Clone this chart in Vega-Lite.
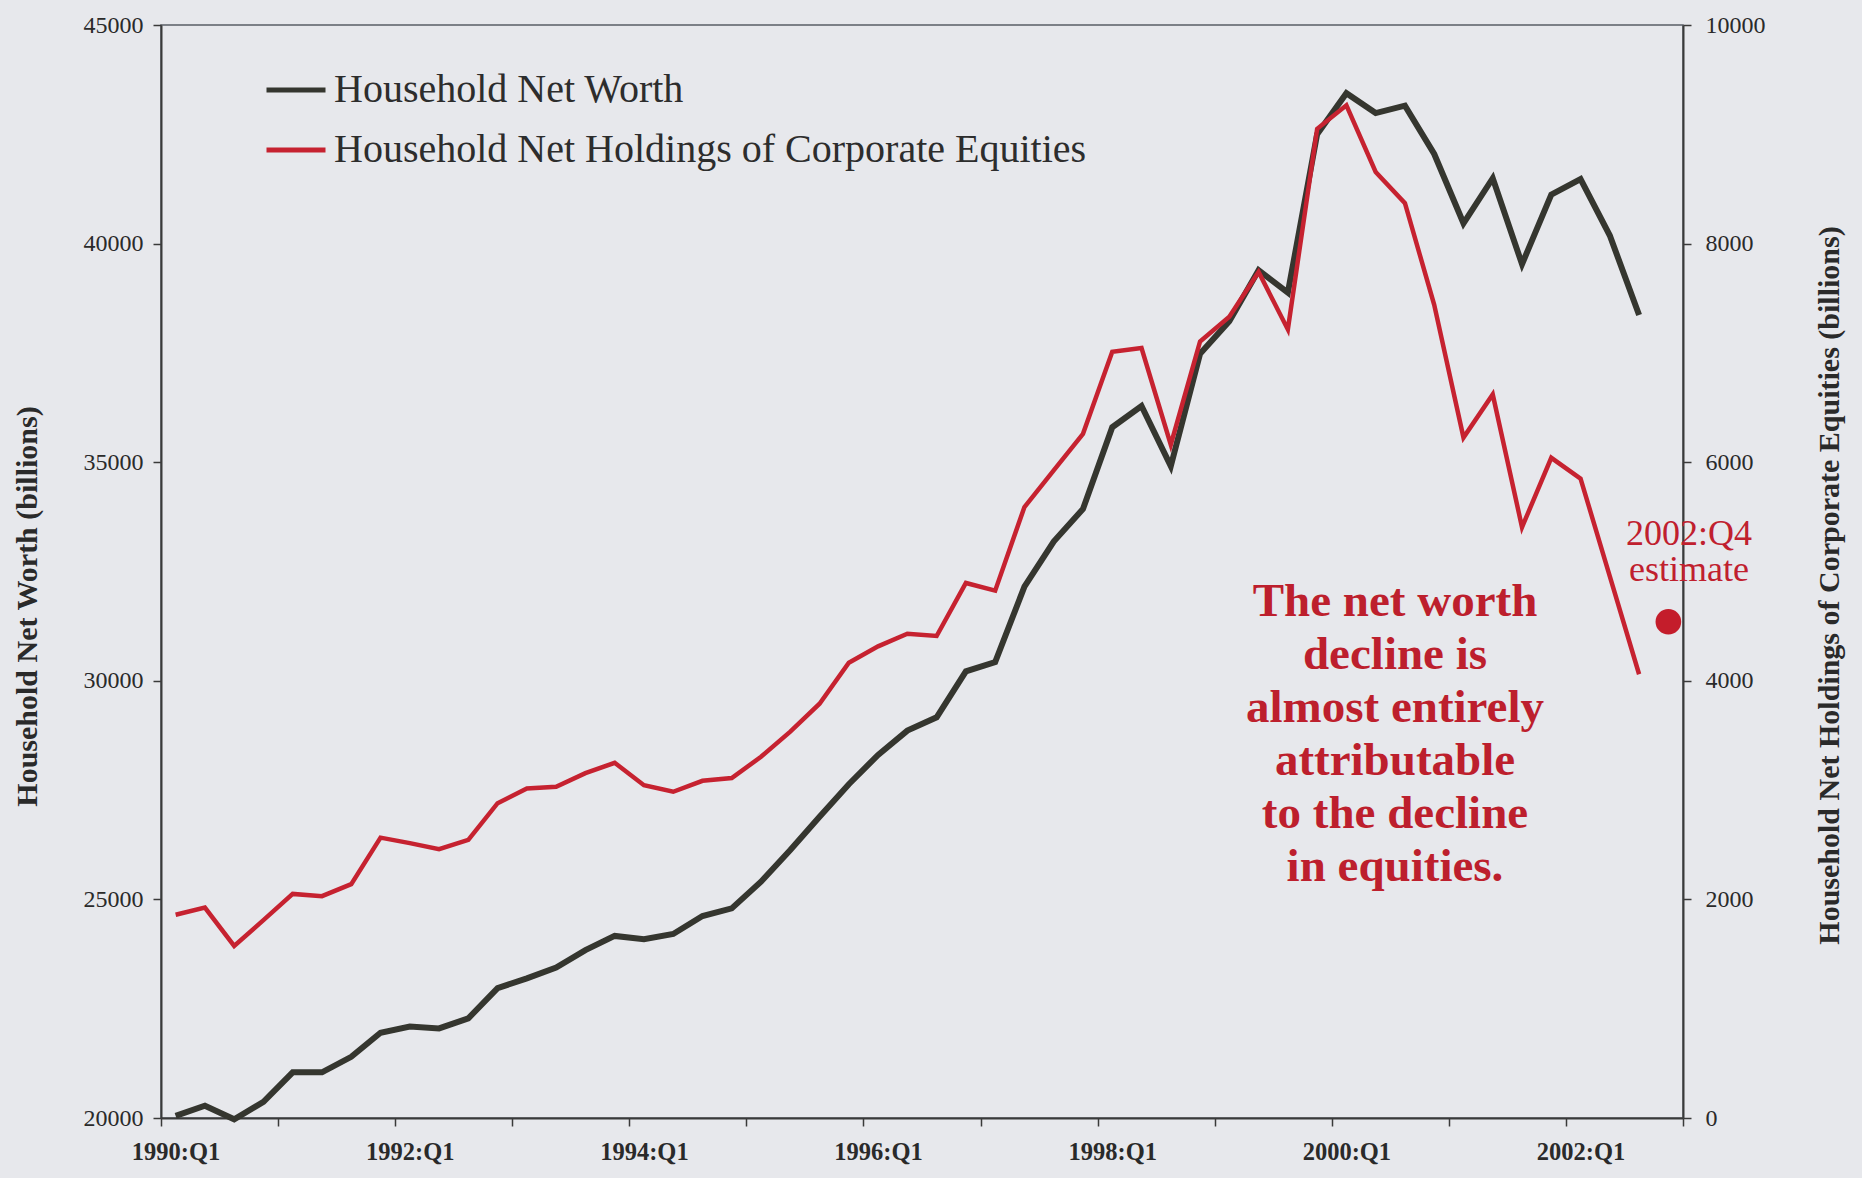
{
  "$schema": "https://vega.github.io/schema/vega-lite/v6.json",
  "width": 1522,
  "height": 1093,
  "autosize": "none",
  "padding": {"left": 161, "top": 25, "right": 179, "bottom": 60},
  "background": "#e7e8ec",
  "config": {
    "font": "Liberation Serif",
    "view": {"stroke": "#5a5d66", "strokeWidth": 1.5},
    "axis": {"grid": false, "domainColor": "#3a3a3a", "domainWidth": 2, "tickColor": "#3a3a3a", "tickWidth": 1.5, "tickSize": 8, "labelFont": "Liberation Serif", "labelColor": "#2a2a2a", "titleFont": "Liberation Serif", "titleColor": "#2a2a2a"},
    "legend": {"orient": "none", "legendX": 103, "legendY": 33, "padding": 0, "symbolType": "stroke", "symbolSize": 3481, "symbolStrokeWidth": 5, "labelFont": "Liberation Serif", "labelFontSize": 40, "labelColor": "#2d2d2d", "labelOffset": 6, "rowPadding": 8, "labelLimit": 1200}
  },
  "data": {"values": [
    {"quarter": "1990:Q1", "t": 1990.00, "net_worth": 20050, "equities": 1860},
    {"quarter": "1990:Q2", "t": 1990.25, "net_worth": 20280, "equities": 1925},
    {"quarter": "1990:Q3", "t": 1990.50, "net_worth": 19970, "equities": 1575},
    {"quarter": "1990:Q4", "t": 1990.75, "net_worth": 20370, "equities": 1810},
    {"quarter": "1991:Q1", "t": 1991.00, "net_worth": 21045, "equities": 2050},
    {"quarter": "1991:Q2", "t": 1991.25, "net_worth": 21045, "equities": 2030},
    {"quarter": "1991:Q3", "t": 1991.50, "net_worth": 21400, "equities": 2140},
    {"quarter": "1991:Q4", "t": 1991.75, "net_worth": 21950, "equities": 2565},
    {"quarter": "1992:Q1", "t": 1992.00, "net_worth": 22090, "equities": 2515},
    {"quarter": "1992:Q2", "t": 1992.25, "net_worth": 22050, "equities": 2460},
    {"quarter": "1992:Q3", "t": 1992.50, "net_worth": 22280, "equities": 2545},
    {"quarter": "1992:Q4", "t": 1992.75, "net_worth": 22970, "equities": 2880},
    {"quarter": "1993:Q1", "t": 1993.00, "net_worth": 23195, "equities": 3015},
    {"quarter": "1993:Q2", "t": 1993.25, "net_worth": 23440, "equities": 3030},
    {"quarter": "1993:Q3", "t": 1993.50, "net_worth": 23840, "equities": 3155},
    {"quarter": "1993:Q4", "t": 1993.75, "net_worth": 24165, "equities": 3250},
    {"quarter": "1994:Q1", "t": 1994.00, "net_worth": 24090, "equities": 3045},
    {"quarter": "1994:Q2", "t": 1994.25, "net_worth": 24210, "equities": 2985},
    {"quarter": "1994:Q3", "t": 1994.50, "net_worth": 24620, "equities": 3085},
    {"quarter": "1994:Q4", "t": 1994.75, "net_worth": 24795, "equities": 3110},
    {"quarter": "1995:Q1", "t": 1995.00, "net_worth": 25405, "equities": 3305},
    {"quarter": "1995:Q2", "t": 1995.25, "net_worth": 26130, "equities": 3535},
    {"quarter": "1995:Q3", "t": 1995.50, "net_worth": 26890, "equities": 3790},
    {"quarter": "1995:Q4", "t": 1995.75, "net_worth": 27635, "equities": 4165},
    {"quarter": "1996:Q1", "t": 1996.00, "net_worth": 28305, "equities": 4315},
    {"quarter": "1996:Q2", "t": 1996.25, "net_worth": 28860, "equities": 4430},
    {"quarter": "1996:Q3", "t": 1996.50, "net_worth": 29165, "equities": 4410},
    {"quarter": "1996:Q4", "t": 1996.75, "net_worth": 30215, "equities": 4895},
    {"quarter": "1997:Q1", "t": 1997.00, "net_worth": 30430, "equities": 4825},
    {"quarter": "1997:Q2", "t": 1997.25, "net_worth": 32155, "equities": 5590},
    {"quarter": "1997:Q3", "t": 1997.50, "net_worth": 33185, "equities": 5925},
    {"quarter": "1997:Q4", "t": 1997.75, "net_worth": 33930, "equities": 6260},
    {"quarter": "1998:Q1", "t": 1998.00, "net_worth": 35800, "equities": 7010},
    {"quarter": "1998:Q2", "t": 1998.25, "net_worth": 36285, "equities": 7045},
    {"quarter": "1998:Q3", "t": 1998.50, "net_worth": 34910, "equities": 6160},
    {"quarter": "1998:Q4", "t": 1998.75, "net_worth": 37480, "equities": 7105},
    {"quarter": "1999:Q1", "t": 1999.00, "net_worth": 38225, "equities": 7330},
    {"quarter": "1999:Q2", "t": 1999.25, "net_worth": 39390, "equities": 7740},
    {"quarter": "1999:Q3", "t": 1999.50, "net_worth": 38880, "equities": 7215},
    {"quarter": "1999:Q4", "t": 1999.75, "net_worth": 42500, "equities": 9050},
    {"quarter": "2000:Q1", "t": 2000.00, "net_worth": 43440, "equities": 9265},
    {"quarter": "2000:Q2", "t": 2000.25, "net_worth": 42985, "equities": 8655},
    {"quarter": "2000:Q3", "t": 2000.50, "net_worth": 43155, "equities": 8370},
    {"quarter": "2000:Q4", "t": 2000.75, "net_worth": 42050, "equities": 7440},
    {"quarter": "2001:Q1", "t": 2001.00, "net_worth": 40465, "equities": 6225},
    {"quarter": "2001:Q2", "t": 2001.25, "net_worth": 41495, "equities": 6620},
    {"quarter": "2001:Q3", "t": 2001.50, "net_worth": 39530, "equities": 5405},
    {"quarter": "2001:Q4", "t": 2001.75, "net_worth": 41120, "equities": 6040},
    {"quarter": "2002:Q1", "t": 2002.00, "net_worth": 41475, "equities": 5850},
    {"quarter": "2002:Q2", "t": 2002.25, "net_worth": 40185, "equities": 4955},
    {"quarter": "2002:Q3", "t": 2002.50, "net_worth": 38365, "equities": 4060},
    {"quarter": "2002:Q4", "t": 2002.75, "estimate": 4540}
  ]},
  "encoding": {
    "x": {
      "field": "t",
      "type": "quantitative",
      "scale": {"domain": [1989.875, 2002.875], "nice": false, "zero": false},
      "axis": {
        "title": null,
        "values": [1989.875, 1990.875, 1991.875, 1992.875, 1993.875, 1994.875, 1995.875, 1996.875, 1997.875, 1998.875, 1999.875, 2000.875, 2001.875, 2002.875],
        "labelExpr": "(round(datum.value + 0.125) % 2 == 0) ? round(datum.value + 0.125) + ':Q1' : ''",
        "labelOffset": 14.6,
        "labelFlush": false,
        "labelOverlap": false,
        "labelBound": false,
        "labelFontWeight": "bold",
        "labelFontSize": 24.5,
        "labelPadding": 14
      }
    }
  },
  "layer": [
    {
      "mark": {"type": "line", "strokeWidth": 6, "strokeJoin": "miter"},
      "transform": [{"filter": "isValid(datum.net_worth)"}],
      "encoding": {
        "y": {
          "field": "net_worth",
          "type": "quantitative",
          "scale": {"domain": [20000, 45000], "nice": false, "zero": false},
          "axis": {
            "orient": "left",
            "values": [20000, 25000, 30000, 35000, 40000, 45000],
            "format": "d",
            "labelFontSize": 24,
            "labelPadding": 10,
            "title": "Household Net Worth (billions)",
            "titleFontSize": 30,
            "titleFontWeight": "bold",
            "titleAngle": 270,
            "titleAlign": "center",
            "titleBaseline": "middle",
            "titleX": -134,
            "titleY": 581
          }
        },
        "color": {
          "datum": "Household Net Worth",
          "type": "nominal",
          "scale": {"domain": ["Household Net Worth", "Household Net Holdings of Corporate Equities"], "range": ["#35362f", "#c62230"]},
          "legend": {"title": null}
        }
      }
    },
    {
      "encoding": {
        "y": {
          "type": "quantitative",
          "scale": {"domain": [0, 10000], "nice": false, "zero": true},
          "axis": {
            "orient": "right",
            "values": [0, 2000, 4000, 6000, 8000, 10000],
            "format": "d",
            "labelFontSize": 24,
            "labelPadding": 14,
            "title": "Household Net Holdings of Corporate Equities (billions)",
            "titleFontSize": 30,
            "titleFontWeight": "bold",
            "titleAngle": 270,
            "titleAlign": "center",
            "titleBaseline": "middle",
            "titleX": 146,
            "titleY": 560
          }
        }
      },
      "layer": [
        {
          "mark": {"type": "line", "strokeWidth": 4.5, "strokeJoin": "miter"},
          "transform": [{"filter": "isValid(datum.equities)"}],
          "encoding": {
            "y": {"field": "equities", "type": "quantitative"},
            "color": {"datum": "Household Net Holdings of Corporate Equities", "type": "nominal"}
          }
        },
        {
          "mark": {"type": "point", "filled": true, "shape": "circle", "size": 660, "color": "#c41d2b", "opacity": 1},
          "transform": [{"filter": "isValid(datum.estimate)"}],
          "encoding": {
            "y": {"field": "estimate", "type": "quantitative"}
          }
        },
        {
          "mark": {"type": "text", "text": ["2002:Q4", "estimate"], "font": "Liberation Serif", "fontSize": 36, "lineHeight": 36, "color": "#c0202e", "align": "center", "baseline": "middle"},
          "transform": [{"filter": "datum.quarter == '2002:Q4'"}],
          "encoding": {
            "x": {"datum": 2002.926, "type": "quantitative"},
            "y": {"datum": 5343, "type": "quantitative"}
          }
        },
        {
          "mark": {"type": "text", "text": ["The net worth", "decline is", "almost entirely", "attributable", "to the decline", "in equities."], "font": "Liberation Serif", "fontWeight": "bold", "fontSize": 47, "lineHeight": 53, "color": "#bd1f2d", "align": "center", "baseline": "middle"},
          "transform": [{"filter": "datum.quarter == '2002:Q4'"}],
          "encoding": {
            "x": {"datum": 2000.415, "type": "quantitative"},
            "y": {"datum": 4721, "type": "quantitative"}
          }
        }
      ]
    }
  ],
  "resolve": {"scale": {"y": "independent"}}
}
